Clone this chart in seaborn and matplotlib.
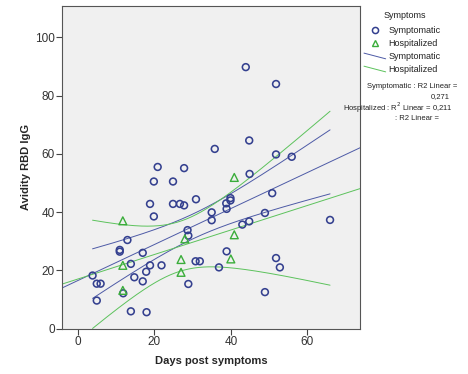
import numpy as np
import pandas as pd
import seaborn as sns
import matplotlib
matplotlib.use("Agg")
import matplotlib.pyplot as plt
from matplotlib.lines import Line2D
from matplotlib.legend_handler import HandlerBase

# ---- data ----
sym_days = [3.9, 5.0, 6.0, 5.0, 11.0, 11.0, 11.9, 13.0, 13.9, 13.9,
            14.8, 17.0, 17.0, 17.9, 18.0, 18.9, 18.9, 19.9, 19.9, 20.9,
            21.9, 24.9, 24.9, 26.7, 27.8, 27.8, 28.7, 28.9, 28.9, 30.8,
            31.9, 30.9, 35.0, 35.0, 35.8, 36.9, 38.9, 39.9, 39.9, 38.8,
            38.9, 43.0, 44.8, 43.9, 44.8, 44.9, 48.9, 48.9, 50.8, 51.8,
            51.8, 51.8, 52.8, 55.9, 65.9]
sym_avid = [18.2, 15.4, 15.4, 9.6, 26.4, 27.0, 12.1, 30.4, 22.2, 5.9,
            17.6, 26.0, 16.2, 19.5, 5.6, 21.7, 42.8, 38.5, 50.5, 55.5,
            21.7, 50.5, 42.8, 42.8, 42.3, 55.1, 33.8, 31.9, 15.3, 23.1,
            23.1, 44.4, 39.9, 37.2, 61.7, 21.0, 26.5, 44.8, 44.0, 43.0,
            41.1, 35.7, 36.8, 89.8, 64.6, 53.1, 39.7, 12.5, 46.5, 84.0,
            59.8, 24.2, 21.0, 59.0, 37.3]
hosp_days = [11.8, 11.8, 11.8, 28.0, 27.0, 27.0, 40.9, 40.9, 40.0]
hosp_avid = [37.0, 21.7, 13.1, 30.8, 23.7, 19.3, 51.9, 32.2, 23.9]

groups = ["Symptomatic", "Hospitalized"]
x_ticks = [0, 20, 40, 60]
y_ticks = [0, 20, 40, 60, 80, 100]
r2_labels = ["0,271", "0,211"]

df = pd.DataFrame({
    "days": sym_days + hosp_days,
    "avid": sym_avid + hosp_avid,
    "group": [groups[0]] * len(sym_days) + [groups[1]] * len(hosp_days),
})

BLUE_PT = "#34408f"
GREEN_PT = "#3aad3a"
BLUE_LN = "#4d5aa6"
GREEN_LN = "#5cc25c"
TXT = "#222222"

sns.set_theme(style="white")
plt.rcParams["font.family"] = ["Liberation Sans", "DejaVu Sans"]

fig = plt.figure(figsize=(4.68, 3.74), dpi=100)
ax = fig.add_axes([62.3 / 468, 1 - 328.5 / 374, (360.3 - 62.3) / 468, (328.5 - 6) / 374])
ax.set_facecolor("#f0f0f0")

XLIM = (-4.0, 73.8)
YLIM = (0, 110.8)


def tq975(nu):
    z = 1.959964
    return (z + (z**3 + z) / (4 * nu) + (5 * z**5 + 16 * z**3 + 3 * z) / (96 * nu**2)
            + (3 * z**7 + 19 * z**5 + 17 * z**3 - 15 * z) / (384 * nu**3))


def fit_lines(x, y, color):
    x = np.asarray(x, float)
    y = np.asarray(y, float)
    n = len(x)
    b, a = np.polyfit(x, y, 1)
    xx = np.linspace(XLIM[0], XLIM[1], 50)
    ax.plot(xx, a + b * xx, color=color, lw=0.7, zorder=2)
    resid = y - (a + b * x)
    s = np.sqrt(np.sum(resid**2) / (n - 2))
    mx = x.mean()
    sxx = np.sum((x - mx) ** 2)
    xc = np.linspace(df["days"].min(), df["days"].max(), 200)
    se = s * np.sqrt(1 / n + (xc - mx) ** 2 / sxx)
    t = tq975(n - 2)
    yc = a + b * xc
    ax.plot(xc, yc + t * se, color=color, lw=0.7, zorder=2)
    ax.plot(xc, yc - t * se, color=color, lw=0.7, zorder=2)


fit_lines(sym_days, sym_avid, BLUE_LN)
fit_lines(hosp_days, hosp_avid, GREEN_LN)

sns.scatterplot(data=df[df.group == groups[0]], x="days", y="avid", ax=ax,
                marker="o", s=24, facecolor="none", edgecolor=BLUE_PT,
                linewidth=1.15, legend=False, zorder=3)
sns.scatterplot(data=df[df.group == groups[1]], x="days", y="avid", ax=ax,
                marker="^", s=32, facecolor="none", edgecolor=GREEN_PT,
                linewidth=1.0, legend=False, zorder=3)

ax.set_xlim(*XLIM)
ax.set_ylim(*YLIM)
ax.set_xticks(x_ticks)
ax.set_yticks(y_ticks)
ax.tick_params(axis="both", direction="out", length=4.5, width=0.8,
               color="#444444", labelsize=8.5, labelcolor="#333333",
               bottom=True, left=True)
ax.tick_params(axis="x", pad=1)
ax.tick_params(axis="y", pad=1)
for sp in ax.spines.values():
    sp.set_color("#555555")
    sp.set_linewidth(0.8)
ax.set_xlabel("Days post symptoms", fontsize=8, fontweight="bold", labelpad=6)
ax.set_ylabel("Avidity RBD IgG", fontsize=8, fontweight="bold", labelpad=3)


class DiagHandler(HandlerBase):
    def create_artists(self, legend, orig_handle, xdescent, ydescent,
                       width, height, fontsize, trans):
        ln = Line2D([-xdescent, -xdescent + width],
                    [-ydescent + height * 0.95, -ydescent + 0.05 * height],
                    color=orig_handle.get_color(), lw=0.7)
        ln.set_transform(trans)
        return [ln]


h_sym = Line2D([], [], ls="none", marker="o", markersize=4.4,
               markerfacecolor="none", markeredgecolor=BLUE_PT, markeredgewidth=1.1)
h_hos = Line2D([], [], ls="none", marker="^", markersize=5,
               markerfacecolor="none", markeredgecolor=GREEN_PT, markeredgewidth=1.0)
l_sym = Line2D([], [], color=BLUE_LN)
l_hos = Line2D([], [], color=GREEN_LN)

fig.text(405 / 468, 1 - 15 / 374, "Symptoms", fontsize=6.5, ha="center",
         va="center", color=TXT)
leg = ax.legend([h_sym, h_hos, l_sym, l_hos], groups + groups,
                loc="upper left",
                bbox_to_anchor=(364 / 468, 1 - 26 / 374),
                bbox_transform=fig.transFigure, frameon=False,
                fontsize=6.5, handlelength=2.4,
                handletextpad=0.3, labelspacing=0.45, borderpad=0,
                borderaxespad=0,
                handler_map={l_sym: DiagHandler(), l_hos: DiagHandler()})
for t in leg.get_texts():
    t.set_color(TXT)

fs = 5.5
fig.text(412 / 468, 1 - 86 / 374, f"{groups[0]} : R2 Linear =", fontsize=fs,
         ha="center", va="center", color=TXT)
fig.text(440 / 468, 1 - 97 / 374, r2_labels[0], fontsize=fs,
         ha="center", va="center", color=TXT)
fig.text(343 / 468, 1 - 108 / 374, f"{groups[1]} : R$^2$ Linear = {r2_labels[1]}",
         fontsize=fs, ha="left", va="center", color=TXT)
fig.text(417 / 468, 1 - 119 / 374, ": R2 Linear =", fontsize=fs,
         ha="center", va="center", color=TXT)

fig.savefig("out.png", dpi=100, facecolor="white")
